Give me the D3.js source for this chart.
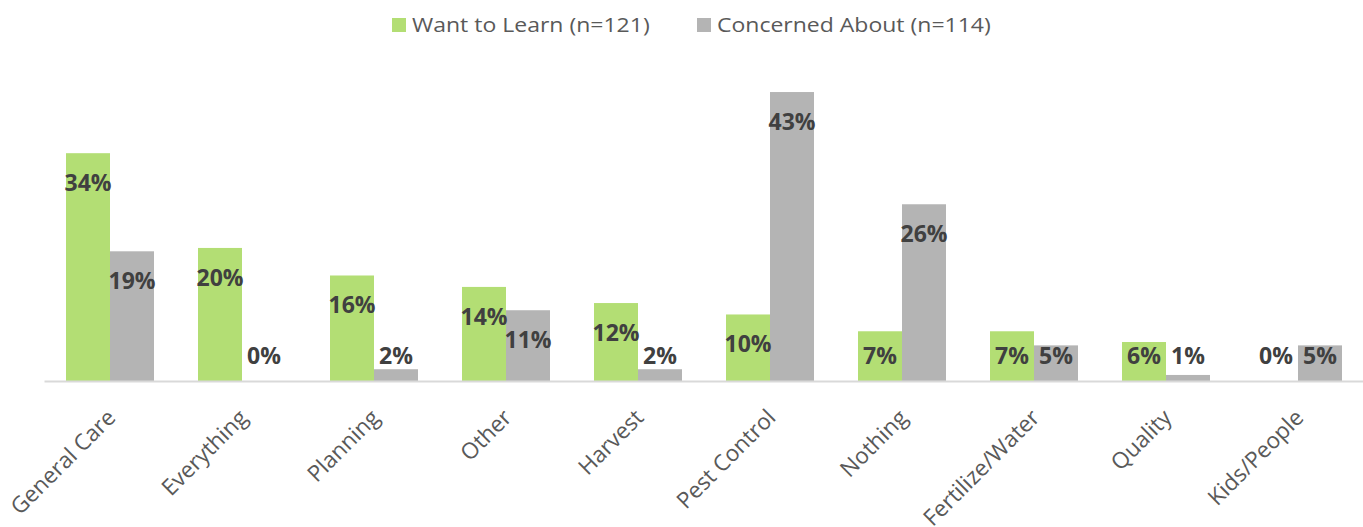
<!DOCTYPE html>
<html>
<head>
<meta charset="utf-8">
<script src="https://cdn.jsdelivr.net/npm/d3@7"></script>
<style>
  html, body { margin: 0; padding: 0; background: #fff; }
  svg { display: block; }
  text { font-family: "Open Sans", "Noto Sans", sans-serif; }
</style>
</head>
<body>
<svg id="chart" width="1363" height="527"></svg>
<script>
const categories = ["General Care", "Everything", "Planning", "Other", "Harvest", "Pest Control", "Nothing", "Fertilize/Water", "Quality", "Kids/People"];
const seriesNames = ["Want to Learn (n=121)", "Concerned About (n=114)"];
const wantToLearn = [33.9, 19.8, 15.7, 14.0, 11.6, 9.9, 7.4, 7.4, 5.8, 0];
const concernedAbout = [19.3, 0, 1.75, 10.53, 1.75, 43.0, 26.3, 5.3, 0.9, 5.3];
const seriesColors = ["#B3DE74", "#B4B4B4"];

const svg = d3.select("#chart");
const baseY = 381;
const left = 44, right = 1364;
const stretch = 1.15;

const x = d3.scaleBand().domain(categories).range([left, right]).paddingInner(0).paddingOuter(0);
const x1 = d3.scaleBand().domain(seriesNames).range([0, x.bandwidth()]).paddingInner(0).paddingOuter(0.5);
const y = d3.scaleLinear().domain([0, 50]).range([baseY, baseY - 336]);

const data = categories.map((c, i) => ({
  cat: c,
  vals: [
    { s: seriesNames[0], v: wantToLearn[i], color: seriesColors[0] },
    { s: seriesNames[1], v: concernedAbout[i], color: seriesColors[1] }
  ]
}));

const groups = svg.append("g").selectAll("g").data(data).join("g")
  .attr("transform", d => `translate(${x(d.cat)},0)`);

groups.selectAll("rect").data(d => d.vals).join("rect")
  .attr("x", d => x1(d.s))
  .attr("width", x1.bandwidth())
  .attr("y", d => y(d.v))
  .attr("height", d => baseY - y(d.v))
  .attr("fill", d => d.color);

// axis
const xAxis = d3.axisBottom(x).tickSize(0).tickSizeOuter(0);
const axG = svg.append("g").attr("transform", `translate(0,${baseY})`).call(xAxis);
axG.select(".domain").attr("stroke", "#D9D9D9").attr("stroke-width", 2);
axG.selectAll(".tick text")
  .attr("font-size", 22.5)
  .attr("fill", "#595959")
  .attr("text-anchor", "end")
  .attr("dy", null)
  .attr("y", 0)
  .attr("transform", "translate(7,38) rotate(-45)");

// value labels
groups.selectAll("text.val").data(d => d.vals).join("text")
  .attr("class", "val")
  .attr("x", d => x1(d.s) + x1.bandwidth() / 2)
  .attr("y", d => Math.min(y(d.v) + 38, baseY - 17))
  .attr("text-anchor", "middle")
  .attr("font-size", 23)
  .attr("font-weight", "bold")
  .attr("fill", "#404040")
  .text(d => Math.round(d.v) + "%");

// legend
const legend = svg.append("g");
const legendX = [392, 697];
seriesNames.forEach((s, i) => {
  const g = legend.append("g").attr("transform", `translate(${legendX[i]},18)`);
  g.append("rect").attr("width", 14).attr("height", 14).attr("fill", seriesColors[i]);
  g.append("text").attr("transform", `translate(20,14) scale(${stretch},1)`)
    .attr("font-size", 20).attr("fill", "#595959").text(s);
});
</script>
</body>
</html>
